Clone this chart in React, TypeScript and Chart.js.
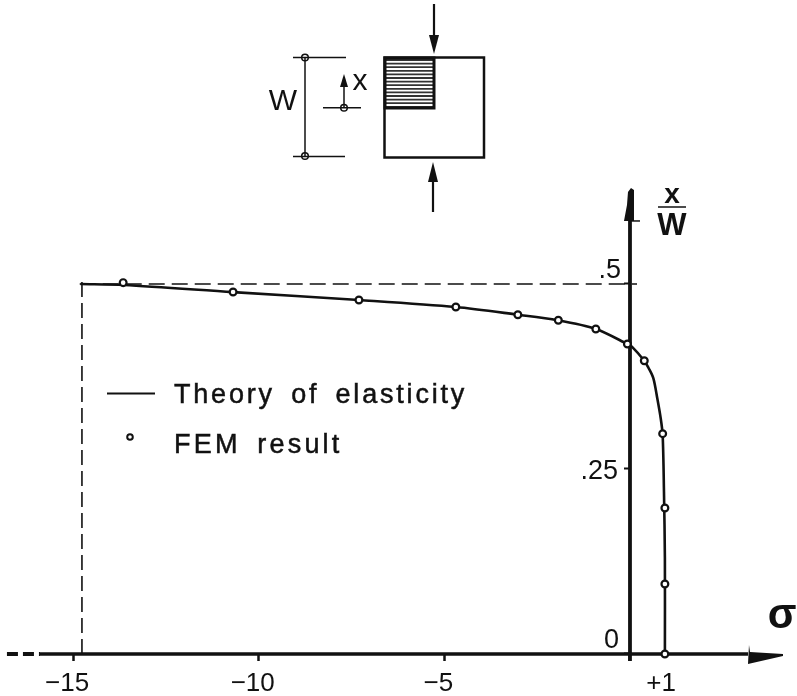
import React, { useEffect, useRef } from "react";
import { Chart, registerables } from "chart.js";

Chart.register(...registerables);

const INK = "#111111";
const SANS = '"Liberation Sans", Arial, sans-serif';

// Value read-offs
const femX = [-13.65, -10.69, -7.3, -4.69, -3.02, -1.93, -0.92, -0.07, 0.385, 0.88, 0.94, 0.94, 0.94];
const femY = [0.5018, 0.4892, 0.4784, 0.4689, 0.4585, 0.451, 0.4392, 0.4189, 0.3963, 0.2977, 0.1973, 0.0946, 0];
const theoryX = [-14.8, -13.63, -10.69, -7.3, -4.69, -3.02, -1.95, -0.92, -0.07, 0.05, 0.385, 0.5, 0.63, 0.735, 0.827, 0.88, 0.915, 0.94, 0.94];
const theoryY = [0.5, 0.4986, 0.489, 0.4784, 0.4689, 0.4585, 0.451, 0.4392, 0.4189, 0.4153, 0.3963, 0.3865, 0.3725, 0.3455, 0.3185, 0.2957, 0.22, 0.13, 0];

const xTickValues = [-15, -10, -5, 0, 1];
const xTickLabels = ["\u221215", "\u221210", "\u22125", "", "+1"];
const yTickValues = [0, 0.25, 0.5];
const yTickLabels = ["0", ".25", ".5"];

const peakX = -14.76;
const peakY = 0.5;

const zip = (xs: number[], ys: number[]) => xs.map((x, i) => ({ x, y: ys[i] }));

const poly = (ctx: CanvasRenderingContext2D, pts: number[][]) => {
  ctx.beginPath();
  pts.forEach(([x, y], i) => (i ? ctx.lineTo(x, y) : ctx.moveTo(x, y)));
  ctx.closePath();
  ctx.fill();
};
const seg = (ctx: CanvasRenderingContext2D, x1: number, y1: number, x2: number, y2: number, w: number) => {
  ctx.lineWidth = w;
  ctx.beginPath();
  ctx.moveTo(x1, y1);
  ctx.lineTo(x2, y2);
  ctx.stroke();
};
const ring = (ctx: CanvasRenderingContext2D, x: number, y: number, r: number, w: number) => {
  ctx.lineWidth = w;
  ctx.beginPath();
  ctx.arc(x, y, r, 0, Math.PI * 2);
  ctx.stroke();
};

const annotations = {
  id: "annotations",
  afterDatasetsDraw(chart: any) {
    const ctx: CanvasRenderingContext2D = chart.ctx;
    const { x: sx, y: sy } = chart.scales;
    ctx.save();
    ctx.fillStyle = INK;
    ctx.strokeStyle = INK;
    ctx.lineCap = "butt";
    ctx.textBaseline = "alphabetic";

    // Axis arrowheads, anchored on the scales
    const ax = sx.getPixelForValue(0);
    const ay = sy.getPixelForValue(0);
    poly(ctx, [[ax + 1, ay - 466], [ax + 4, ay - 464], [ax + 4, ay - 433], [ax - 6, ay - 433], [ax - 3, ay - 449], [ax - 2, ay - 462]]);
    seg(ctx, ax, ay - 433, ax + 10, ay - 433, 1.5);
    poly(ctx, [[ax + 119, ay - 9], [ax + 120, ay - 2], [ax + 153, ay], [ax + 153, ay + 2], [ax + 118, ay + 10]]);

    // Value axis tick labels
    ctx.textAlign = "right";
    ctx.font = `27px ${SANS}`;
    const yLabelPlacement = [
      { right: -11, dy: -6 },
      { right: -12, dy: 10 },
      { right: -9, dy: -6 },
    ];
    sy.ticks.forEach((t: any, i: number) => {
      const p = yLabelPlacement[i];
      ctx.fillText(String(t.label), ax + p.right, sy.getPixelForValue(t.value) + p.dy);
    });

    // Axis titles
    ctx.textAlign = "center";
    ctx.font = `bold 28px ${SANS}`;
    ctx.fillText("x", 672, 203);
    seg(ctx, 658, 207, 686, 207, 1.5);
    ctx.font = `bold 31px ${SANS}`;
    ctx.fillText("W", 672, 235);
    ctx.font = `bold 42px ${SANS}`;
    ctx.fillText("\u03C3", 782, 628);

    // Legend
    const labels = chart.data.datasets;
    ctx.textAlign = "left";
    ctx.font = `27px ${SANS}`;
    (ctx as any).letterSpacing = "2.8px";
    (ctx as any).wordSpacing = "6px";
    ctx.lineWidth = 0.5;
    ctx.fillText(labels[1].label, 174, 403);
    ctx.strokeText(labels[1].label, 174, 403);
    (ctx as any).letterSpacing = "3.2px";
    ctx.fillText(labels[0].label, 174, 453);
    ctx.strokeText(labels[0].label, 174, 453);
    (ctx as any).letterSpacing = "0px";
    (ctx as any).wordSpacing = "0px";
    seg(ctx, 107, 393.5, 155, 393.5, 2);
    ring(ctx, 130, 437, 2.8, 2);

    // Inset sketch: the loaded square
    ctx.strokeStyle = "#333333";
    for (let y = 60; y < 107; y += 3.6) seg(ctx, 385, y, 434, y, 1.8);
    ctx.strokeStyle = INK;
    ctx.lineWidth = 2.5;
    ctx.strokeRect(384.5, 57.5, 99.5, 100);
    ctx.lineWidth = 3;
    ctx.strokeRect(385, 58, 49, 50);
    seg(ctx, 434, 4, 434, 40, 2.2);
    poly(ctx, [[429, 35], [439, 35], [434, 54]]);
    seg(ctx, 433, 178, 433, 212, 2.2);
    poly(ctx, [[428, 182], [438, 182], [433, 162]]);

    // Inset sketch: dimensions
    seg(ctx, 305, 57.5, 305, 156, 1.5);
    seg(ctx, 293, 57.5, 346, 57.5, 1.5);
    seg(ctx, 293, 156.5, 345, 156.5, 1.5);
    ring(ctx, 305, 57.5, 3.3, 1.5);
    ring(ctx, 305, 156, 3.3, 1.5);
    seg(ctx, 323, 107.7, 361, 107.7, 1.5);
    ring(ctx, 344, 107.7, 3.3, 1.5);
    seg(ctx, 344, 107, 344, 84, 1.5);
    poly(ctx, [[340, 87], [348, 87], [344, 74]]);
    ctx.textAlign = "center";
    ctx.font = `30px ${SANS}`;
    ctx.fillText("W", 283, 110);
    ctx.fillText("x", 360, 90);
    ctx.restore();
  },
};

export default function App() {
  const ref = useRef<HTMLCanvasElement | null>(null);

  useEffect(() => {
    document.body.style.margin = "0";
    document.body.style.background = "#ffffff";
    const chart = new Chart(ref.current as HTMLCanvasElement, {
      type: "line",
      data: {
        datasets: [
          {
            label: "FEM result",
            data: zip(femX, femY),
            showLine: false,
            pointRadius: 3.4,
            pointBorderWidth: 2.2,
            pointBorderColor: INK,
            pointBackgroundColor: "#ffffff",
          },
          {
            label: "Theory of elasticity",
            data: zip(theoryX, theoryY),
            borderColor: INK,
            borderWidth: 2.6,
            tension: 0.3,
            pointRadius: 0,
          },
          {
            label: "sigma axis",
            data: zip([-15.89, 3.18], [0, 0]),
            borderColor: INK,
            borderWidth: 3.5,
            pointRadius: 0,
          },
          {
            label: "sigma axis, broken",
            data: zip([-16.78, -15.89], [0, 0]),
            borderColor: INK,
            borderWidth: 4,
            borderDash: [11, 5],
            pointRadius: 0,
          },
          {
            label: "x/W axis",
            data: zip([0, 0], [-0.0095, 0.587]),
            borderColor: INK,
            borderWidth: 3.8,
            pointRadius: 0,
          },
          {
            label: "peak level",
            data: zip([-14.82, 0.19], [peakY, peakY]),
            borderColor: INK,
            borderWidth: 1.6,
            borderDash: [16, 7],
            pointRadius: 0,
          },
          {
            label: "peak stress",
            data: zip([peakX, peakX], [0, 0.509]),
            borderColor: INK,
            borderWidth: 1.6,
            borderDash: [15, 6],
            pointRadius: 0,
          },
        ],
      },
      options: {
        animation: false,
        responsive: false,
        layout: { padding: 0, autoPadding: false },
        plugins: { legend: { display: false }, tooltip: { enabled: false } },
        scales: {
          x: {
            type: "linear",
            position: { y: 0 },
            min: -16.967,
            max: 4.498,
            border: { display: false },
            grid: {
              drawOnChartArea: false,
              tickLength: 7,
              tickWidth: 2.5,
              tickColor: (c: any) => (c.tick && c.tick.value === 1 ? "rgba(0,0,0,0)" : INK),
            },
            afterBuildTicks: (s: any) => {
              s.ticks = xTickValues.map((value) => ({ value }));
            },
            ticks: {
              autoSkip: false,
              maxRotation: 0,
              padding: 7,
              labelOffset: -6,
              color: INK,
              font: { family: SANS, size: 26 },
              callback: (v: any) => xTickLabels[xTickValues.indexOf(v)],
            },
          },
          y: {
            type: "linear",
            position: { x: 0 },
            min: -0.0568,
            max: 0.8838,
            border: { display: false },
            grid: { drawOnChartArea: false, tickLength: 6, tickWidth: 2, tickColor: INK },
            afterBuildTicks: (s: any) => {
              s.ticks = yTickValues.map((value) => ({ value }));
            },
            ticks: {
              display: false,
              callback: (v: any) => yTickLabels[yTickValues.indexOf(v)],
            },
          },
        },
      },
      plugins: [annotations],
    } as any);
    return () => chart.destroy();
  }, []);

  return (
    <div style={{ width: 797, height: 696 }}>
      <canvas ref={ref} width={797} height={696} style={{ display: "block" }} />
    </div>
  );
}
